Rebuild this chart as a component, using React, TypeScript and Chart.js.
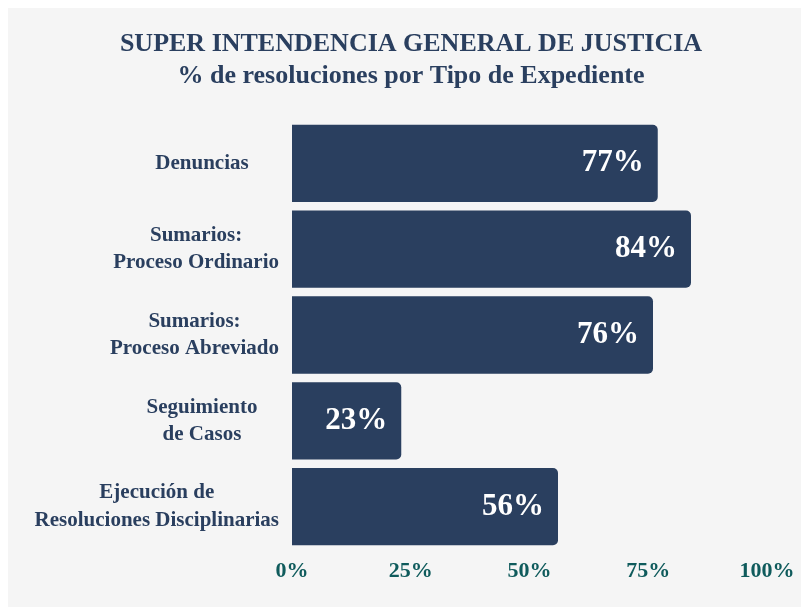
import React, { useEffect, useRef } from 'react';
import { Chart, registerables } from 'chart.js';

Chart.register(...registerables);

const categories: string[][] = [
  ['Denuncias'],
  ['Sumarios:', 'Proceso Ordinario'],
  ['Sumarios:', 'Proceso Abreviado'],
  ['Seguimiento', 'de Casos'],
  ['Ejecución de', 'Resoluciones Disciplinarias'],
];
const values: number[] = [77, 84, 76, 23, 56];
const xTicks: number[] = [0, 25, 50, 75, 100];
const titleLines: string[] = [
  'SUPER INTENDENCIA GENERAL DE JUSTICIA',
  '% de resoluciones por Tipo de Expediente',
];

const FONT = "'Liberation Serif', 'Times New Roman', serif";
const NAVY = '#2a3f5f';
const TEAL = '#0f5b5c';
const BG = '#f5f5f5';

const bgPlugin = {
  id: 'bg',
  beforeDraw(chart: any) {
    const ctx = chart.ctx;
    ctx.save();
    ctx.fillStyle = BG;
    ctx.fillRect(0, 0, chart.width, chart.height);
    ctx.restore();
  },
};

const yLabelPlugin = {
  id: 'ylabels',
  afterDraw(chart: any) {
    const ctx = chart.ctx;
    const scale = chart.scales.y;
    const area = chart.chartArea;
    const lh = 27.5;
    ctx.save();
    ctx.font = `bold 21px ${FONT}`;
    ctx.fillStyle = NAVY;
    ctx.textAlign = 'center';
    ctx.textBaseline = 'middle';
    categories.forEach((lines, i) => {
      const y = scale.getPixelForValue(i);
      const w = Math.max(...lines.map((l) => ctx.measureText(l).width));
      const right = area.left - 13;
      const cx = Math.min(right - w / 2, area.left - 90);
      const top = y - ((lines.length - 1) * lh) / 2;
      lines.forEach((l, j) => ctx.fillText(l, cx, top + j * lh));
    });
    ctx.restore();
  },
};

const valuePlugin = {
  id: 'values',
  afterDatasetsDraw(chart: any) {
    const ctx = chart.ctx;
    const meta = chart.getDatasetMeta(0);
    ctx.save();
    ctx.font = `bold 31px ${FONT}`;
    ctx.fillStyle = '#ffffff';
    ctx.textAlign = 'right';
    ctx.textBaseline = 'middle';
    meta.data.forEach((bar: any, i: number) => {
      ctx.fillText(values[i] + '%', bar.x - 14, bar.y);
    });
    ctx.restore();
  },
};

export default function App() {
  const ref = useRef<HTMLCanvasElement | null>(null);
  useEffect(() => {
    if (!ref.current) return;
    const chart = new Chart(ref.current, {
      type: 'bar',
      data: {
        labels: categories.map((c) => c.join(' ')),
        datasets: [
          {
            data: values,
            backgroundColor: NAVY,
            borderRadius: 5,
            barPercentage: 0.9,
            categoryPercentage: 1,
          },
        ],
      },
      options: {
        indexAxis: 'y',
        responsive: false,
        animation: false,
        layout: { padding: { left: 47, right: 47, top: 0, bottom: 14 } },
        plugins: {
          legend: { display: false },
          tooltip: { enabled: false },
          title: {
            display: true,
            text: titleLines,
            color: NAVY,
            font: { family: FONT, size: 26, weight: 'bold', lineHeight: 1.2 },
            padding: { top: 21, bottom: 29 },
          },
        },
        scales: {
          x: {
            type: 'linear',
            min: 0,
            max: 100,
            afterBuildTicks: (s: any) => {
              s.ticks = xTicks.map((v) => ({ value: v }));
            },
            ticks: {
              callback: (v: any) => v + '%',
              color: TEAL,
              font: { family: FONT, size: 22, weight: 'bold' },
              padding: 9,
            },
            grid: { display: false, drawTicks: false },
            border: { display: false },
          },
          y: {
            type: 'category',
            ticks: { display: false },
            grid: { display: false, drawTicks: false },
            border: { display: false },
            afterFit: (s: any) => {
              s.width = 237;
            },
          },
        },
      },
      plugins: [bgPlugin, yLabelPlugin, valuePlugin],
    } as any);
    return () => chart.destroy();
  }, []);
  return (
    <div style={{ position: 'fixed', left: 8, top: 8, width: 793, height: 599, overflow: 'hidden' }}>
      <canvas ref={ref} width={806} height={600} style={{ display: 'block' }} />
    </div>
  );
}
